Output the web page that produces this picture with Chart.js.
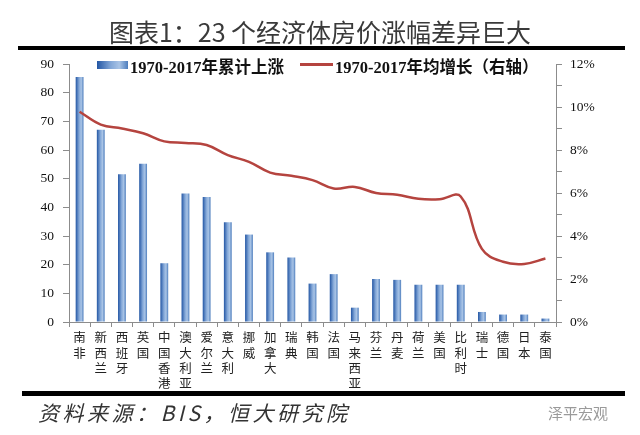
<!DOCTYPE html>
<html>
<head>
<meta charset="utf-8">
<script src="https://cdn.jsdelivr.net/npm/chart.js@4.4.1/dist/chart.umd.min.js"></script>
<style>
    body { margin: 0; background: #fff; }
    #wrap { position: relative; width: 640px; height: 435px; overflow: hidden; background: #fff; }
    #chart { position: absolute; left: 0; top: 0; }
    .rule { position: absolute; background: #000; }
    #title { position: absolute; left: 0; width: 640px; top: 13px; text-align: center;
        font: 25px "Noto Sans CJK SC", sans-serif; color: #3a3a3a; white-space: nowrap; }
    #source { position: absolute; left: 38px; top: 397px; font: italic 21px "Noto Sans CJK SC", serif; letter-spacing: 3.5px; color: #333; white-space: nowrap; }
    #mark { position: absolute; left: 548px; top: 402px; font: 15px "Noto Sans CJK SC", sans-serif; color: #9a9a9a; }
    .legend-text { position: absolute; top: 54px; font: bold 16.5px "Liberation Serif", "Noto Sans CJK SC", serif; color: #111; white-space: nowrap; }
</style>
</head>
<body>
<div id="wrap">
    <canvas id="chart" width="640" height="435"></canvas>
    <div id="title">图表1：23 个经济体房价涨幅差异巨大</div>
    <div class="rule" style="left:18px; top:46px; width:607px; height:4px;"></div>
    <div class="rule" style="left:22px; top:391px; width:603px; height:5px;"></div>
    <div id="source">资料来源：BIS，恒大研究院</div>
    <div id="mark">泽平宏观</div>
    <div id="legend"></div>
</div>
<script>
const categories = ['南非', '新西兰', '西班牙', '英国', '中国香港', '澳大利亚', '爱尔兰', '意大利', '挪威', '加拿大', '瑞典', '韩国',
    '法国', '马来西亚', '芬兰', '丹麦', '荷兰', '美国', '比利时', '瑞士', '德国', '日本', '泰国'];
// 1970-2017 cumulative rise (left axis)
const cumulativeRise = [85.5, 67.1, 51.5, 55.2, 20.5, 44.8, 43.6, 34.8, 30.5, 24.3, 22.5, 13.4,
    16.7, 5.0, 15.0, 14.7, 13.0, 13.0, 13.0, 3.5, 2.6, 2.6, 1.2];
// 1970-2017 average annual growth, % (right axis)
const annualGrowth = [9.78, 9.18, 9.0, 8.78, 8.4, 8.33, 8.23, 7.76, 7.45, 6.95, 6.8, 6.6,
    6.21, 6.28, 6.0, 5.92, 5.73, 5.71, 5.84, 3.4, 2.8, 2.7, 2.95];
const leftTicks = { min: 0, max: 90, step: 10 };
const rightTicks = { min: 0, max: 12, step: 1 };

const barLabel = '1970-2017年累计上涨';
const lineLabel = '1970-2017年均增长（右轴）';
const lineColor = '#b5443f';
const BAR_PCT = 0.37;

function barGradient(ctx, x, w) {
    const g = ctx.createLinearGradient(x - w / 2, 0, x + w / 2, 0);
    g.addColorStop(0, '#2356a4');
    g.addColorStop(0.45, '#84a8d8');
    g.addColorStop(0.72, '#a9c4e6');
    g.addColorStop(1, '#4d7dbd');
    return g;
}

const canvas = document.getElementById('chart');
const chart = new Chart(canvas.getContext('2d'), {
    data: {
        labels: categories.map(c => c.split('')),
        datasets: [
            {
                type: 'line',
                label: lineLabel,
                data: annualGrowth,
                yAxisID: 'y1',
                borderColor: lineColor,
                borderWidth: 2.5,
                pointRadius: 0,
                tension: 0.4,
                order: 1,
            },
            {
                type: 'bar',
                label: barLabel,
                data: cumulativeRise,
                yAxisID: 'y',
                barPercentage: BAR_PCT,
                categoryPercentage: 1,
                backgroundColor: function (context) {
                    const c = context.chart;
                    const xs = c.scales.x;
                    if (!xs || context.dataIndex === undefined) return '#4f81bd';
                    const x = xs.getPixelForValue(context.dataIndex);
                    const w = xs.width / categories.length * BAR_PCT;
                    if (!isFinite(x) || !isFinite(w) || w <= 0) return '#4f81bd';
                    return barGradient(c.ctx, x, w);
                },
                order: 2,
            },
        ],
    },
    options: {
        responsive: false,
        animation: false,
        layout: { padding: { top: 64, left: 0, right: 0, bottom: 0 } },
        plugins: {
            legend: { display: false },
            tooltip: { enabled: false },
        },
        scales: {
            x: {
                grid: { offset: true, drawOnChartArea: false, tickLength: 5, color: '#8c8c8c' },
                border: { color: '#8c8c8c' },
                ticks: {
                    autoSkip: false,
                    maxRotation: 0,
                    padding: 3,
                    color: '#222',
                    font: { family: '"Noto Sans CJK SC", sans-serif', size: 12.5, lineHeight: 1.22 },
                },
                afterFit: scale => { scale.height = 113; },
            },
            y: {
                position: 'left',
                min: leftTicks.min,
                max: leftTicks.max,
                grid: { drawOnChartArea: false, tickLength: 6, color: '#8c8c8c' },
                border: { color: '#8c8c8c' },
                ticks: {
                    stepSize: leftTicks.step,
                    padding: 9,
                    color: '#111',
                    font: { family: '"Liberation Serif", serif', size: 13.5 },
                },
                afterFit: scale => { scale.width = 69; },
            },
            y1: {
                position: 'right',
                min: rightTicks.min,
                max: rightTicks.max,
                grid: { drawOnChartArea: false, tickLength: 6, color: '#8c8c8c' },
                border: { color: '#8c8c8c' },
                ticks: {
                    stepSize: rightTicks.step,
                    padding: 8,
                    color: '#111',
                    font: { family: '"Liberation Serif", serif', size: 13.5 },
                    callback: v => (v % 2 === 0 ? v + '%' : ''),
                },
                afterFit: scale => { scale.width = 84; },
            },
        },
    },
});
chart.update();

// legend drawn as html on top of the plot area
const legend = document.getElementById('legend');
legend.innerHTML =
    '<div style="position:absolute;left:97px;top:61px;width:31px;height:8px;' +
    'background:linear-gradient(to right,#2356a4,#84a8d8 45%,#a9c4e6 72%,#4d7dbd)"></div>' +
    '<div class="legend-text" style="left:130px">' + chart.data.datasets[1].label + '</div>' +
    '<div style="position:absolute;left:300px;top:63px;width:33px;height:3px;background:' + lineColor + '"></div>' +
    '<div class="legend-text" style="left:335px">' + chart.data.datasets[0].label + '</div>';
</script>
</body>
</html>
